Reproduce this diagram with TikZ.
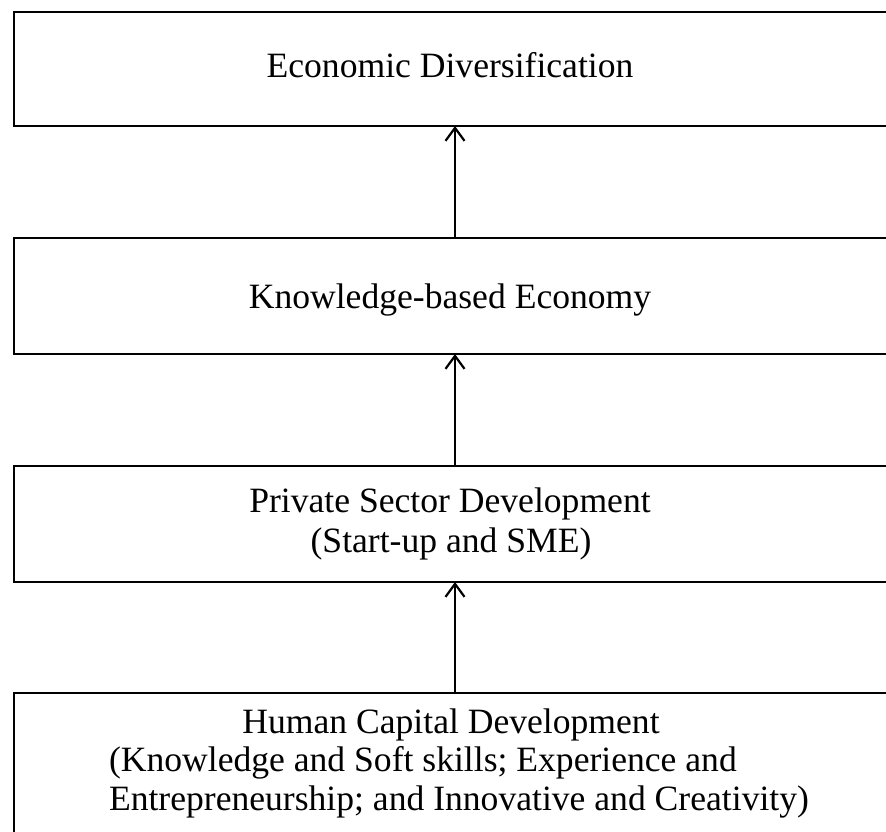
\documentclass[tikz,border=0pt]{standalone}
\usepackage{fontspec}
\setmainfont{Liberation Serif}
\usetikzlibrary{arrows.meta}
\begin{document}
\begin{tikzpicture}[x=1pt,y=1pt,
  stage/.style={draw=black, line width=2.4pt, minimum width=874pt, inner sep=0pt, outer sep=0pt},
  txt/.style={inner sep=0pt, outer sep=0pt, font=\fontsize{35.6}{38.5}\selectfont},
  flow/.style={line width=2.2pt, -{Straight Barb[length=13pt,width=19pt]}}]
\clip (0,0) rectangle (886,-832);
\fill[white] (0,0) rectangle (886,-832);

% the four stages, top to bottom
\node[stage, minimum height=114pt] (b1) at (451,-69) {};
\node[stage, minimum height=116pt] (b2) at (451,-296) {};
\node[stage, minimum height=116pt] (b3) at (451,-524) {};
\node[stage, minimum height=207pt] (b4) at (451,-796.5) {};

% stage texts
\node[txt, anchor=base] (t1) at (450,-78) {Economic Diversification};
\node[txt, anchor=base] (t2) at (450,-308) {Knowledge-based Economy};
\node[txt, anchor=base] (t3a) at (450,-512) {Private Sector Development};
\node[txt, anchor=base] (t3b) at (451,-552) {(Start-up and SME)};
\node[txt, anchor=base] (t4a) at (451,-733) {Human Capital Development};
\node[txt, anchor=base west] (t4b) at (109,-771) {(Knowledge and Soft skills; Experience and};
\node[txt, anchor=base west] (t4c) at (109,-810) {Entrepreneurship; and Innovative and Creativity)};

% upward links
\draw[flow] ([xshift=4pt]b2.north) -- ([xshift=4pt]b1.south);
\draw[flow] ([xshift=4pt]b3.north) -- ([xshift=4pt]b2.south);
\draw[flow] ([xshift=4pt]b4.north) -- ([xshift=4pt]b3.south);
\end{tikzpicture}
\end{document}
